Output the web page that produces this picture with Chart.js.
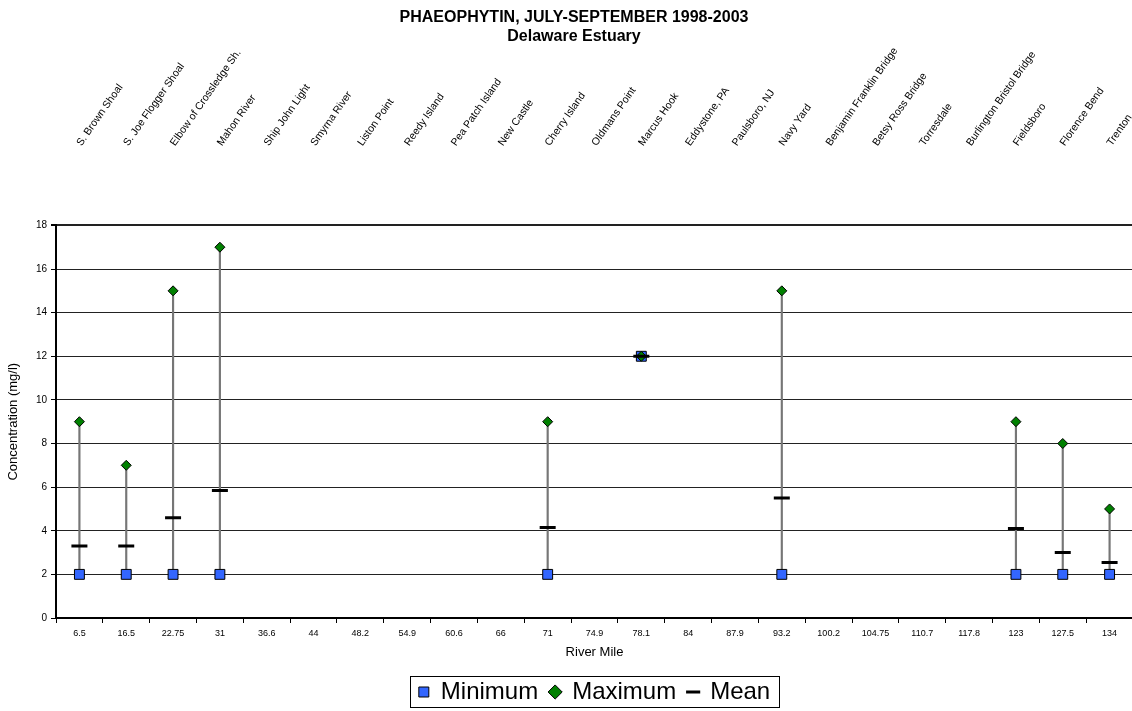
<!DOCTYPE html>
<html><head><meta charset="utf-8">
<script src="https://cdn.jsdelivr.net/npm/chart.js@4.4.1/dist/chart.umd.min.js"></script>
<style>
html,body{margin:0;padding:0;background:#fff;overflow:hidden;width:1132px;height:711px}
#wrap{position:absolute;left:0;top:0;width:1148px;height:711px}
</style>
</head><body><div id="wrap"><canvas id="c"></canvas></div>
<script>
const riverMiles = ['6.5','16.5','22.75','31','36.6','44','48.2','54.9','60.6','66','71','74.9','78.1','84','87.9','93.2','100.2','104.75','110.7','117.8','123','127.5','134'];
const stations = ['S. Brown Shoal','S. Joe Flogger Shoal','Elbow of Crossledge Sh.','Mahon River','Ship John Light','Smyrna River','Liston Point','Reedy Island','Pea Patch Island','New Castle','Cherry Island','Oldmans Point','Marcus Hook','Eddystone, PA','Paulsboro, NJ','Navy Yard','Benjamin Franklin Bridge','Betsy Ross Bridge','Torresdale','Burlington Bristol Bridge','Fieldsboro','Florence Bend','Trenton'];
const minimum = [2,2,2,2,null,null,null,null,null,null,2,null,12,null,null,2,null,null,null,null,2,2,2];
const maximum = [9,7,15,17,null,null,null,null,null,null,9,null,12,null,null,15,null,null,null,null,9,8,5];
const mean    = [3.3,3.3,4.6,5.85,null,null,null,null,null,null,4.15,null,12,null,null,5.5,null,null,null,null,4.1,3.0,2.55];
const yMin = 0, yMax = 18, yStep = 2;

const FONT = "'Liberation Sans', Arial, sans-serif";
Chart.defaults.font.family = FONT;
Chart.defaults.color = '#000';

const ranges = minimum.map((v, i) => (v == null || maximum[i] == null) ? null : [v, maximum[i]]);

const legendBorder = {
  id: 'legendBorder',
  afterDraw(chart) {
    const lg = chart.legend;
    if (!lg || !lg.legendHitBoxes || !lg.legendHitBoxes.length) return;
    const hb = lg.legendHitBoxes;
    const l = Math.min(...hb.map(b => b.left));
    const r = Math.max(...hb.map(b => b.left + b.width));
    const t = Math.min(...hb.map(b => b.top));
    const b = Math.max(...hb.map(b => b.top + b.height));
    const ctx = chart.ctx;
    ctx.save();
    ctx.strokeStyle = '#000';
    ctx.lineWidth = 1;
    ctx.strokeRect(Math.round(l - 9) + 0.5, Math.round(t - 4) + 0.5, Math.round(r - l + 18), Math.round(b - t + 7));
    ctx.restore();
  }
};

const noSidePad = (s) => { s.paddingLeft = 0; s.paddingRight = 0; };

new Chart(document.getElementById('c'), {
  type: 'bar',
  data: {
    labels: riverMiles,
    datasets: [
      { type: 'bar', label: 'Range', data: ranges, backgroundColor: '#767676', barThickness: 1.5, order: 4, grouped: false },
      { type: 'line', label: 'Minimum', data: minimum, showLine: false, pointStyle: 'rect', pointRadius: 7, pointHoverRadius: 7,
        backgroundColor: '#3366FF', borderColor: '#000', borderWidth: 1, pointBackgroundColor: '#3366FF', pointBorderColor: '#000', pointBorderWidth: 1, order: 3 },
      { type: 'line', label: 'Maximum', data: maximum, showLine: false, pointStyle: 'rectRot', pointRadius: 5, pointHoverRadius: 5,
        backgroundColor: '#008000', borderColor: '#000', borderWidth: 1, pointBackgroundColor: '#008000', pointBorderColor: '#000', pointBorderWidth: 1, order: 2 },
      { type: 'line', label: 'Mean', data: mean, showLine: false, pointStyle: 'line', pointRadius: 8, pointHoverRadius: 8,
        backgroundColor: '#000', borderColor: '#000', borderWidth: 3, pointBorderColor: '#000', pointBorderWidth: 3, order: 1 }
    ]
  },
  options: {
    responsive: true,
    maintainAspectRatio: false,
    animation: false,
    layout: { padding: { left: 15, right: 15, top: 0, bottom: -3 } },
    plugins: {
      title: {
        display: true,
        text: ['PHAEOPHYTIN, JULY-SEPTEMBER 1998-2003', 'Delaware Estuary'],
        font: { size: 16, weight: 'bold', lineHeight: 1.2 },
        color: '#000',
        padding: { top: 8, bottom: 1 }
      },
      legend: {
        position: 'bottom',
        fullSize: false,
        labels: {
          usePointStyle: true,
          boxWidth: 10, boxHeight: 10,
          font: { size: 24 },
          color: '#000',
          padding: 12,
          sort: (a, b) => a.datasetIndex - b.datasetIndex,
          filter: (item) => item.text !== 'Range'
        }
      },
      tooltip: { enabled: false }
    },
    scales: {
      x: {
        type: 'category',
        position: 'bottom',
        offset: true,
        grid: { drawOnChartArea: false, offset: true, drawTicks: true, tickLength: 5, color: '#000', tickColor: '#000' },
        border: { display: true, color: '#000', width: 2 },
        ticks: { font: { size: 9 }, color: '#000', maxRotation: 0, minRotation: 0, autoSkip: false, padding: 5 },
        title: { display: true, text: 'River Mile', font: { size: 13 }, color: '#000', padding: { top: 4, bottom: 8 } },
        afterFit: (s) => { noSidePad(s); s.height = 50; }
      },
      x2: {
        type: 'category',
        position: 'top',
        labels: stations,
        offset: true,
        grid: { display: false, drawTicks: false },
        border: { display: false },
        ticks: { font: { size: 10.5 }, color: '#000', minRotation: 55, maxRotation: 55, autoSkip: false, padding: 77, labelOffset: 10 },
        afterFit: (s) => { noSidePad(s); s.height = 178; }
      },
      y: {
        min: yMin, max: yMax,
        ticks: { stepSize: yStep, font: { size: 10 }, color: '#000', padding: 4 },
        grid: { color: '#222', lineWidth: (c) => (c.tick && c.tick.value === yMax ? 2 : 1), drawTicks: true, tickLength: 5, tickColor: '#000' },
        border: { display: true, color: '#000', width: 2 },
        title: { display: true, text: 'Concentration (mg/l)', font: { size: 13 }, color: '#000', padding: { top: -9, bottom: 0 } },
        afterFit: (s) => { s.paddingTop = 0; s.paddingBottom = 0; s.width = 41; }
      }
    }
  },
  plugins: [legendBorder]
});
</script>
</body></html>
